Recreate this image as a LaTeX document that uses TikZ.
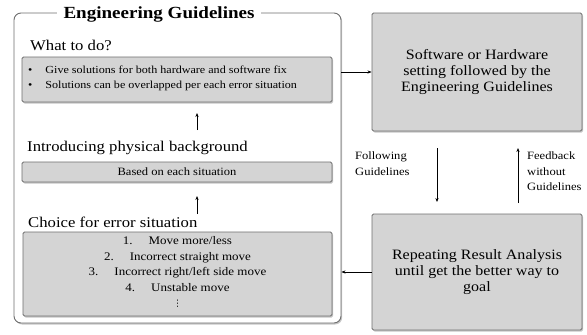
\documentclass[tikz,border=0pt]{standalone}
\usepackage{fontspec}
\setmainfont[FakeStretch=1.12]{Liberation Serif}
\newfontfamily\symfont{DejaVu Sans}
\usetikzlibrary{shadows,arrows.meta}
\definecolor{boxfill}{RGB}{212,212,212}
\definecolor{boxline}{RGB}{110,110,110}
\begin{document}
\begin{tikzpicture}[x=1pt,y=-1pt,
  gbox/.style={draw=boxline,line width=0.9pt,fill=boxfill,rounded corners=1.5pt,
    drop shadow={shadow xshift=1.2pt,shadow yshift=-1.5pt,opacity=0.45},
    inner sep=0pt,text=black},
  frm/.style={draw=boxline,line width=0.9pt,fill=white,rounded corners=7pt,
    drop shadow={shadow xshift=1.2pt,shadow yshift=-1.5pt,opacity=0.45},inner sep=0pt},
  lbl/.style={inner sep=0pt,anchor=west,font=\fontsize{14.9}{16}\selectfont},
  arr/.style={-{Stealth[length=4pt,width=3.2pt]},line width=0.7pt,black},
  small/.style={font=\fontsize{11.2}{15.5}\selectfont,inner sep=0pt}
]
\useasboundingbox (0,0) rectangle (587,335);
% frame
\node[frm,minimum width=327pt,minimum height=310pt] (frame) at (177.5,168) {};
\node[fill=white,inner xsep=7pt,inner ysep=1pt,font=\fontsize{17}{19}\selectfont\bfseries] (title) at (159,14) {Engineering Guidelines};
% left boxes
\node[lbl] (l1) at (30,45) {What to do?};
\node[gbox,minimum width=310pt,minimum height=45pt] (b1) at (177,79.5) {};
\node[anchor=west,align=left,inner sep=0pt,font=\fontsize{10.8}{15}\selectfont] (b1t) at (28,78) {\textbullet\hspace{13pt}Give solutions for both hardware and software fix\\\textbullet\hspace{13pt}Solutions can be overlapped per each error situation};
\node[lbl] (l2) at (27,148) {Introducing physical background};
\node[gbox,minimum width=310pt,minimum height=20pt,font=\fontsize{11.2}{12}\selectfont] (b2) at (177,172) {Based on each situation};
\node[lbl] (l3) at (28,222) {Choice for error situation};
\node[gbox,minimum width=309pt,minimum height=84pt] (b3) at (177.5,274) {};
\node[align=center,inner sep=0pt,font=\fontsize{11.6}{15.5}\selectfont] (b3t) at (177.5,264)
  {1.\hspace{16pt}Move more/less\\2.\hspace{16pt}Incorrect straight move\\3.\hspace{16pt}Incorrect right/left side move\\4.\hspace{16pt}Unstable move};
\node[inner sep=0pt,font=\symfont\fontsize{9}{10}\selectfont] (vd) at (177.5,304) {⋮};
% right boxes
\node[gbox,minimum width=210pt,minimum height=118pt,align=center,font=\fontsize{14.3}{16}\selectfont] (A) at (477,72)
  {Software or Hardware\\setting followed by the\\Engineering Guidelines};
\node[gbox,minimum width=210pt,minimum height=116pt,align=center,font=\fontsize{14.3}{16}\selectfont] (B) at (477,272)
  {Repeating Result Analysis\\until get the better way to\\goal};
% side labels
\node[small,anchor=north west,align=left] (fl) at (355,152) {Following\\Guidelines};
\node[small,anchor=north west,align=left] (fb) at (527,152) {Feedback\\without\\Guidelines};
% coordinates
\coordinate (u1s) at (197,130);
\coordinate (u1e) at (197,113);
\coordinate (u2s) at (197,214);
\coordinate (u2e) at (197,196);
\coordinate (ds) at (437,148);
\coordinate (de) at (437,202);
\coordinate (us) at (518,203);
\coordinate (ue) at (518,148);
% connectors
\draw[arr] (frame.east |- A.west) -- (A.west);
\draw[arr] (B.west) -- (frame.east |- B.west);
\draw[arr] (u1s) -- (u1e);
\draw[arr] (u2s) -- (u2e);
\draw[arr] (ds) -- (de);
\draw[arr] (us) -- (ue);
\end{tikzpicture}
\end{document}
